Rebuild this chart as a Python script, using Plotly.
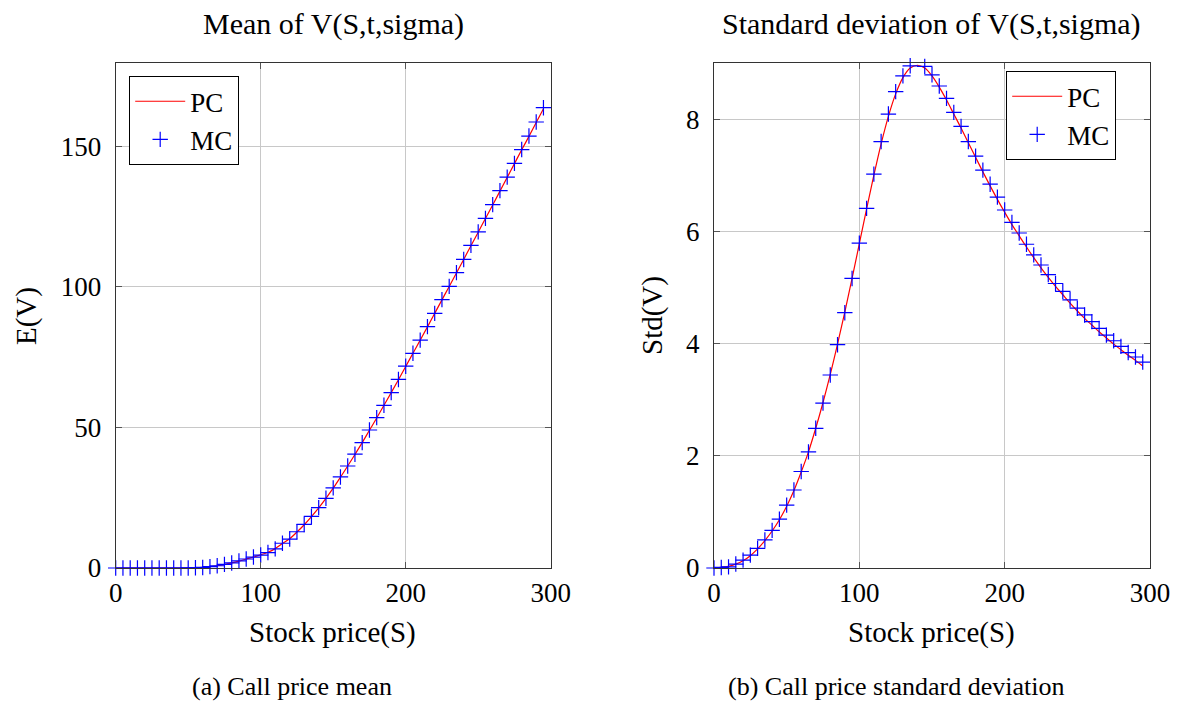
import plotly.graph_objects as go

S = list(range(0, 300, 5))

mean_mc = [0, 0, 0, 0, 0, 0, 0, 0, 0, 0, 0.02, 0.08, 0.2, 0.5, 0.8, 1.3, 1.8, 2.5, 3.2, 3.9,
           4.6, 5.5, 6.8, 8.8, 10.3, 12.9, 15.5, 18.4, 21.5, 24.8, 28.5, 32.4, 36.3, 40.5, 44.6,
           49.1, 53.5, 57.9, 62.4, 67.1, 71.8, 76.4, 81.1, 85.9, 90.6, 95.5, 100.2, 105.1, 109.8,
           114.8, 119.6, 124.4, 129.3, 134.3, 139.1, 144.0, 148.9, 153.7, 158.7, 163.8]
mean_pc = [0, 0, 0, 0, 0, 0, 0, 0, 0, 0, 0.02, 0.08, 0.2, 0.45, 0.8, 1.25, 1.8, 2.45, 3.2, 3.9,
           4.7, 5.6, 6.9, 8.7, 10.4, 12.8, 15.4, 18.3, 21.4, 24.8, 28.4, 32.3, 36.3, 40.4, 44.6,
           49.0, 53.4, 57.9, 62.4, 67.0, 71.7, 76.4, 81.1, 85.8, 90.6, 95.4, 100.2, 105.0, 109.8,
           114.7, 119.5, 124.4, 129.2, 134.1, 139.0, 143.9, 148.8, 153.6, 158.5, 163.4]

std_mc = [0, 0.01, 0.02, 0.07, 0.14, 0.23, 0.35, 0.50, 0.67, 0.87, 1.12, 1.39, 1.72, 2.07, 2.49,
          2.94, 3.44, 3.98, 4.55, 5.16, 5.79, 6.41, 7.02, 7.60, 8.09, 8.49, 8.77, 8.95, 9.01, 8.94,
          8.79, 8.59, 8.37, 8.12, 7.87, 7.60, 7.34, 7.09, 6.84, 6.61, 6.38, 6.16, 5.97, 5.77, 5.58,
          5.40, 5.23, 5.07, 4.93, 4.78, 4.63, 4.51, 4.39, 4.27, 4.15, 4.05, 3.95, 3.84, 3.76, 3.67]
std_pc = [0, 0.01, 0.03, 0.07, 0.13, 0.22, 0.34, 0.49, 0.66, 0.86, 1.10, 1.38, 1.71, 2.07, 2.49,
          2.95, 3.45, 3.99, 4.56, 5.16, 5.78, 6.40, 7.00, 7.56, 8.05, 8.45, 8.74, 8.91, 8.96, 8.91,
          8.77, 8.57, 8.34, 8.09, 7.84, 7.58, 7.32, 7.06, 6.81, 6.57, 6.34, 6.12, 5.92, 5.72, 5.53,
          5.35, 5.18, 5.02, 4.87, 4.72, 4.58, 4.45, 4.33, 4.21, 4.10, 3.99, 3.89, 3.79, 3.70, 3.60]

FONT = "Liberation Serif"
RED = "#ff0000"
BLUE = "#0000ff"

W, H = 1181, 704

def px(x):
    return x / W

def py(y):
    return 1 - y / H

fig = go.Figure()

fig.add_trace(go.Scatter(x=S, y=mean_pc, mode="lines", name="PC", line=dict(color=RED, width=1.2, shape="spline"),
                         xaxis="x", yaxis="y", legend="legend"))
fig.add_trace(go.Scatter(x=S, y=mean_mc, mode="markers", name="MC",
                         marker=dict(symbol="cross-thin", size=11, line=dict(color=BLUE, width=1.2)),
                         xaxis="x", yaxis="y", legend="legend", cliponaxis=False))
fig.add_trace(go.Scatter(x=S, y=std_pc, mode="lines", name="PC", line=dict(color=RED, width=1.2, shape="spline"),
                         xaxis="x2", yaxis="y2", legend="legend2"))
fig.add_trace(go.Scatter(x=S, y=std_mc, mode="markers", name="MC",
                         marker=dict(symbol="cross-thin", size=11, line=dict(color=BLUE, width=1.2)),
                         xaxis="x2", yaxis="y2", legend="legend2", cliponaxis=False))

axis_common = dict(showgrid=True, gridcolor="#c8c8c8", gridwidth=1, zeroline=False,
                   showline=True, linecolor="#333333", linewidth=1.2, mirror="allticks",
                   ticks="inside", ticklen=6, tickcolor="#555555", automargin=False,
                   tickfont=dict(family=FONT, size=27, color="black"))

y0, y1 = py(568), py(63)

legend_common = dict(xanchor="left", yanchor="top", bordercolor="black", borderwidth=1.2,
                     bgcolor="white", font=dict(family=FONT, size=27), itemwidth=50,
                     tracegroupgap=0)

fig.update_layout(
    width=W, height=H, autosize=False,
    margin=dict(l=0, r=0, t=0, b=0, pad=0),
    paper_bgcolor="white", plot_bgcolor="white",
    font=dict(family=FONT, color="black"),
    xaxis=dict(domain=[px(115.7), px(550.7)], range=[0, 300], tickvals=[0, 100, 200, 300],
               anchor="y", ticklabelstandoff=0, **axis_common),
    yaxis=dict(domain=[y0, y1], range=[0, 179.7], tickvals=[0, 50, 100, 150], anchor="x",
               ticklabelstandoff=8, **axis_common),
    xaxis2=dict(domain=[px(714), px(1150)], range=[0, 300], tickvals=[0, 100, 200, 300],
                anchor="y2", ticklabelstandoff=0, **axis_common),
    yaxis2=dict(domain=[y0, y1], range=[0, 9.0], tickvals=[0, 2, 4, 6, 8], anchor="x2",
                ticklabelstandoff=8, **axis_common),
    legend=dict(x=px(129), y=py(76), **legend_common),
    legend2=dict(x=px(1006), y=py(71), **legend_common),
    showlegend=True,
)

ann = []
def text(x, y, s, size, angle=0):
    ann.append(dict(x=px(x), y=py(y), xref="paper", yref="paper", text=s, showarrow=False,
                    font=dict(family=FONT, size=size, color="black"), textangle=angle,
                    xanchor="center", yanchor="middle"))

text(333, 24, "Mean of V(S,t,sigma)", 30)
text(931, 24, "Standard deviation of V(S,t,sigma)", 30)
text(332, 632, "Stock price(S)", 29)
text(931, 632, "Stock price(S)", 29)
text(26, 316, "E(V)", 29, -90)
text(652, 316, "Std(V)", 29, -90)
text(292, 686, "(a) Call price mean", 26)
text(896, 686, "(b) Call price standard deviation", 26)
fig.update_layout(annotations=ann)

fig.write_html("out.html")
